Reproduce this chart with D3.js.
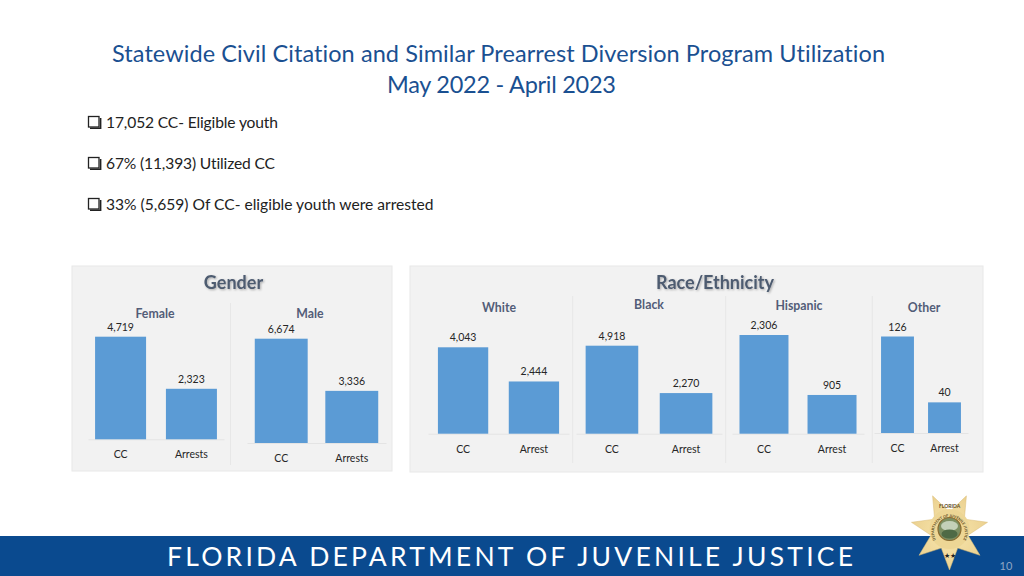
<!DOCTYPE html>
<html><head><meta charset="utf-8">
<script src="https://cdn.jsdelivr.net/npm/d3@7"></script>
<style>
html,body{margin:0;padding:0;background:#fff}
svg{display:block}
text{font-family:Lato,"Open Sans",sans-serif;font-variant-ligatures:none}
.axis path{stroke:#e4e4e4;stroke-width:1}
.axis line{display:none}
.axis text{font-family:Lato,sans-serif;font-size:10.5px;fill:#262626}
</style></head><body>
<svg id="c" width="1024" height="576"></svg>
<script>
// ---- data ----
const titleLines = ["Statewide Civil Citation and Similar Prearrest Diversion Program Utilization","May 2022 - April 2023"];
const bullets = ["17,052 CC- Eligible youth","67% (11,393) Utilized CC","33% (5,659) Of CC- eligible youth were arrested"];
const groupNames = ["Female","Male","White","Black","Hispanic","Other"];
const groupCats = [["CC","Arrests"],["CC","Arrests"],["CC","Arrest"],["CC","Arrest"],["CC","Arrest"],["CC","Arrest"]];
const groupValues = [[4719,2323],[6674,3336],[4043,2444],[4918,2270],[2306,905],[126,40]];
const footerText = "FLORIDA DEPARTMENT OF JUVENILE JUSTICE";

// ---- layout (pixels, separate from data) ----
const bulletWidths = [172,169,327.5];
const plots = [
 {l:88, r:224,top:336.7,base:439.3,inner:.28,outer:.1, nameX:155,nameY:318,tickY:458},
 {l:247,r:386,top:338.7,base:443,  inner:.25,outer:.11,nameX:310,nameY:318,tickY:462},
 {l:428,r:569,top:347.3,base:433.7,inner:.29,outer:.14,nameX:499,nameY:312,tickY:453},
 {l:576,r:722,top:345.7,base:433.7,inner:.29,outer:.13,nameX:649,nameY:309,tickY:453},
 {l:732,r:864,top:335,  base:433.7,inner:.28,outer:.11,nameX:799,nameY:309.5,tickY:453},
 {l:874,r:968,top:336.5,base:433,  inner:.3, outer:.15,nameX:924,nameY:312,tickY:452}
];
const panels = [
 {x:72, y:266,w:320,h:205,title:"Gender",tx:233.5,ty:289,dividers:[230.5],dy:[303,465]},
 {x:410,y:266,w:573,h:206,title:"Race/Ethnicity",tx:715,ty:289,dividers:[572.7,725.7,872.3],dy:[296,463]}
];

const svg = d3.select("#c");
const defs = svg.append("defs");
const f = defs.append("filter").attr("id","ts").attr("x","-10%").attr("y","-20%").attr("width","120%").attr("height","150%");
f.append("feDropShadow").attr("dx",1).attr("dy",1).attr("stdDeviation",.8).attr("flood-color","#000").attr("flood-opacity",.3);

// title
svg.append("g").selectAll("text").data(titleLines).join("text")
 .attr("x",(d,i)=>i?501.5:498.5).attr("y",(d,i)=>61.5+i*31).attr("text-anchor","middle")
 .attr("font-size",23.5).attr("fill","#1a5091").attr("textLength",(d,i)=>i?229:773).attr("lengthAdjust","spacing").text(d=>d);

// bullets
const bg = svg.append("g").selectAll("g").data(bullets).join("g").attr("transform",(d,i)=>`translate(0,${i*41})`);
bg.append("rect").attr("x",88.5).attr("y",116.5).attr("width",10.5).attr("height",10.5).attr("fill","#fff").attr("stroke","#222").attr("stroke-width",1.3);
bg.append("path").attr("d","M90 128.3H100.6V118").attr("fill","none").attr("stroke","#222").attr("stroke-width",1.6);
bg.append("text").attr("x",106).attr("y",128).attr("font-size",15.6).attr("fill","#222")
 .attr("textLength",(d,i)=>bulletWidths[i]).attr("lengthAdjust","spacing").text(d=>d);

// panels
panels.forEach(p=>{
 svg.append("rect").attr("x",p.x).attr("y",p.y).attr("width",p.w).attr("height",p.h).attr("fill","#f2f2f2").attr("stroke","#e8e8e8");
 svg.append("text").attr("x",p.tx).attr("y",p.ty).attr("text-anchor","middle").attr("font-size",18).attr("font-weight",700)
   .attr("fill","#4e5b70").attr("filter","url(#ts)").text(p.title);
 p.dividers.forEach(x=>svg.append("line").attr("x1",x).attr("x2",x).attr("y1",p.dy[0]).attr("y2",p.dy[1]).attr("stroke","#e7e7e7"));
});

// small bar charts
groupNames.forEach((name,i)=>{
 const p=plots[i], cats=groupCats[i], vals=groupValues[i];
 const x=d3.scaleBand().domain(cats).range([p.l,p.r]).paddingInner(p.inner).paddingOuter(p.outer);
 const y=d3.scaleLinear().domain([0,d3.max(vals)]).range([p.base,p.top]);
 const g=svg.append("g");
 const ax=g.append("g").attr("class","axis").attr("transform",`translate(0,${p.base})`)
   .call(d3.axisBottom(x).tickSize(0).tickPadding(p.tickY-p.base-9));
 ax.selectAll(".tick text").attr("dy",0).attr("y",p.tickY-p.base);
 g.selectAll("rect").data(vals).join("rect")
  .attr("x",(d,k)=>x(cats[k])).attr("width",x.bandwidth())
  .attr("y",d=>y(d)).attr("height",d=>p.base-y(d)).attr("fill","#5b9bd5");
 g.selectAll("text.v").data(vals).join("text").attr("class","v")
  .attr("x",(d,k)=>x(cats[k])+x.bandwidth()/2).attr("y",d=>y(d)-6)
  .attr("text-anchor","middle").attr("font-size",10.5).attr("fill","#262626").text(d3.format(","));
 g.append("text").attr("x",p.nameX).attr("y",p.nameY).attr("text-anchor","middle")
  .attr("font-size",12.3).attr("font-weight",700).attr("fill","#525d78").text(name);
});

// footer
svg.append("rect").attr("x",0).attr("y",536).attr("width",1024).attr("height",40).attr("fill","#0a4a8f");
svg.append("text").attr("x",167).attr("y",566).attr("font-size",26.5).attr("fill","#fff")
 .attr("textLength",686).attr("lengthAdjust","spacing").text(footerText);
svg.append("text").attr("x",1006).attr("y",570).attr("text-anchor","middle").attr("font-size",11).attr("fill","#8fa6c4").text("10");

// badge
const cx=949.5, cy=531;
const grad=defs.append("radialGradient").attr("id","gold");
grad.append("stop").attr("offset","0%").attr("stop-color","#f8e7b0");
grad.append("stop").attr("offset","100%").attr("stop-color","#ecd291");
const badge=svg.append("g").attr("transform",`translate(${cx},${cy})`);
const starR=[39,19];
const starPts=d3.range(14).map(k=>[k*Math.PI/7+Math.PI,starR[k%2]]);
badge.append("path").attr("d",d3.lineRadial().curve(d3.curveLinearClosed)(starPts)).attr("fill","url(#gold)").attr("stroke","#d8bb74").attr("stroke-width",.5);
badge.append("circle").attr("cy",-2).attr("r",20).attr("fill","#edd695");
badge.append("circle").attr("cy",-2).attr("r",11.5).attr("fill","#7d8f62").attr("stroke","#8a6a2f").attr("stroke-width",1.2);
badge.append("ellipse").attr("cy",-5).attr("rx",8.5).attr("ry",5).attr("fill","#c4d0b8");
badge.append("ellipse").attr("cy",3).attr("rx",8).attr("ry",4.5).attr("fill","#4f6a45");
defs.append("path").attr("id","arcT").attr("d","M-13 10A15.5 15.5 0 1 1 13 10");
badge.append("text").attr("font-size",3.7).attr("font-weight",700).attr("fill","#5b4a22")
 .append("textPath").attr("href","#arcT").attr("startOffset","50%").attr("text-anchor","middle").text("DEPARTMENT OF JUVENILE JUSTICE");
badge.append("text").attr("y",-23).attr("text-anchor","middle").attr("font-size",5).attr("font-weight",700).attr("fill","#5b4a22").text("FLORIDA");
badge.append("text").attr("y",27).attr("text-anchor","middle").attr("font-size",6.5).attr("fill","#222").text("★★");
</script></body></html>
